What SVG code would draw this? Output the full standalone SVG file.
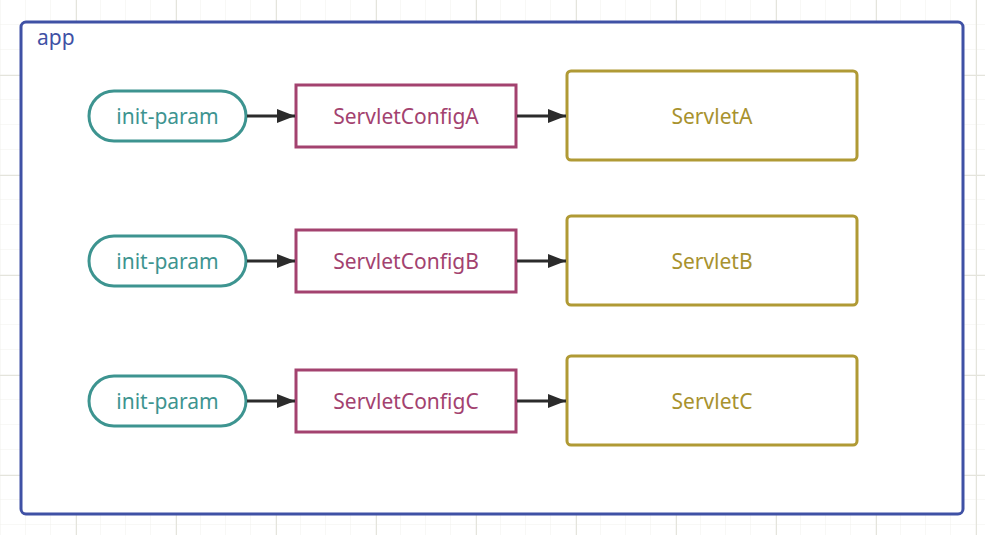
<svg xmlns="http://www.w3.org/2000/svg" width="985" height="535" viewBox="0 0 985 535">
<defs>
<pattern id="minor" width="25" height="25" patternUnits="userSpaceOnUse" x="1" y="0">
<path d="M25 0V25M0 25H25" fill="none" stroke="#f0f0ec" stroke-width="1"/>
</pattern>
<pattern id="major" width="100" height="100" patternUnits="userSpaceOnUse" x="76" y="75">
<path d="M0.5 0V100M0 0.5H100" fill="none" stroke="#e4e4dc" stroke-width="1"/>
</pattern>
<marker id="arr" viewBox="0 0 18 14" refX="18" refY="7" markerWidth="18" markerHeight="14" markerUnits="userSpaceOnUse" orient="auto">
<path d="M0 0L18 7L0 14Z" fill="#2b2b2b"/>
</marker>
</defs>
<style>
text{font-family:"Noto Sans","Open Sans","DejaVu Sans",sans-serif;font-size:21px;text-anchor:middle;dominant-baseline:central}
.param rect{fill:#fff;stroke:#3d9490;stroke-width:3}
.param text{fill:#3d9490}
.cfg rect{fill:#fff;stroke:#a3426f;stroke-width:3}
.cfg text{fill:#a3426f}
.srv rect{fill:#fff;stroke:#b09a35;stroke-width:3}
.srv text{fill:#a8922e}
.conn line{stroke:#2b2b2b;stroke-width:3;marker-end:url(#arr)}
</style>
<rect width="985" height="535" fill="#fff"/>
<rect width="985" height="535" fill="url(#minor)"/>
<rect width="985" height="535" fill="url(#major)"/>
<g id="app">
<rect x="21" y="22" width="942" height="492" rx="5" fill="#fff" stroke="#3f51a5" stroke-width="3"/>
<text x="37" y="37" style="text-anchor:start" fill="#3f51a5">app</text>
</g>
<g id="paramA" class="param"><rect x="89" y="91" width="157" height="50" rx="25"/><text x="167.5" y="116">init-param</text></g>
<g id="configA" class="cfg"><rect x="296" y="85" width="220" height="62"/><text x="406" y="116">ServletConfigA</text></g>
<g id="servletA" class="srv"><rect x="567" y="71" width="290" height="89" rx="4"/><text x="712" y="116">ServletA</text></g>
<g id="paramB" class="param"><rect x="89" y="236" width="157" height="50" rx="25"/><text x="167.5" y="261">init-param</text></g>
<g id="configB" class="cfg"><rect x="296" y="230" width="220" height="62"/><text x="406" y="261">ServletConfigB</text></g>
<g id="servletB" class="srv"><rect x="567" y="216" width="290" height="89" rx="4"/><text x="712" y="261">ServletB</text></g>
<g id="paramC" class="param"><rect x="89" y="376" width="157" height="50" rx="25"/><text x="167.5" y="401">init-param</text></g>
<g id="configC" class="cfg"><rect x="296" y="370" width="220" height="62"/><text x="406" y="401">ServletConfigC</text></g>
<g id="servletC" class="srv"><rect x="567" y="356" width="290" height="89" rx="4"/><text x="712" y="401">ServletC</text></g>
<g id="connectors" class="conn">
<line x1="247" y1="116" x2="295" y2="116"/>
<line x1="517" y1="116" x2="566" y2="116"/>
<line x1="247" y1="261" x2="295" y2="261"/>
<line x1="517" y1="261" x2="566" y2="261"/>
<line x1="247" y1="401" x2="295" y2="401"/>
<line x1="517" y1="401" x2="566" y2="401"/>
</g>
</svg>
